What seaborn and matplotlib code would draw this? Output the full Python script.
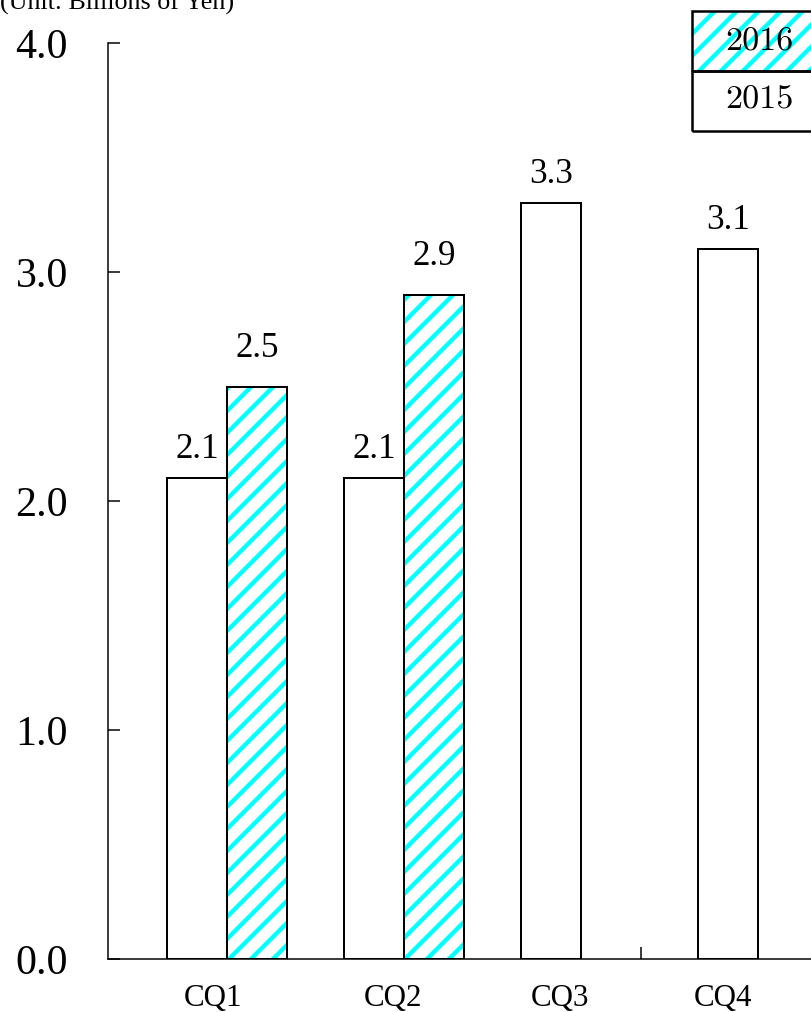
import matplotlib
matplotlib.use("Agg")
import matplotlib.pyplot as plt
from matplotlib.patches import Rectangle
import pandas as pd
import seaborn as sns

# Quarterly sales, billions of yen
quarters = ["CQ1", "CQ2", "CQ3", "CQ4"]
years = ["2015", "2016"]
sales_2015 = [2.1, 2.1, 3.3, 3.1]
sales_2016 = [2.5, 2.9, None, None]
y_ticks = [0.0, 1.0, 2.0, 3.0, 4.0]
unit_label = "(Unit: Billions of Yen)"

DPI = 132
W, H = 811, 1012


def pt(px):
    """Pixel size to points at the figure dpi."""
    return px * 72 / DPI


CYAN = "#00FFFF"
HATCH = "//"

sns.set_theme(style="white", rc={
    "text.color": "black",
    "axes.edgecolor": "black",
    "xtick.color": "black",
    "ytick.color": "black",
    "axes.labelcolor": "black",
})
plt.rcParams["font.family"] = ["Liberation Serif", "DejaVu Serif"]
plt.rcParams["hatch.linewidth"] = pt(4.4)

df = pd.DataFrame({
    "quarter": quarters * 2,
    "year": [years[0]] * len(quarters) + [years[1]] * len(quarters),
    "value": sales_2015 + sales_2016,
}).dropna()

fig = plt.figure(figsize=(W / DPI, H / DPI), dpi=DPI)
ax = fig.add_axes([108 / W, 1 - 959 / H, 1 - 108 / W, (959 - 43) / H])

sns.barplot(data=df, x="quarter", y="value", hue="year",
            order=quarters, hue_order=years, width=0.678,
            palette=["white", "white"], saturation=1,
            edgecolor="black", linewidth=pt(2), legend=False, ax=ax)

# 2016 bars: cyan diagonal hatch with a black outline on top
for bar in ax.containers[1]:
    bar.set_hatch(HATCH)
    bar.set_edgecolor(CYAN)
    bar.set_linewidth(0)
    ax.add_patch(Rectangle(bar.get_xy(), bar.get_width(), bar.get_height(),
                           fill=False, edgecolor="black", linewidth=pt(2),
                           zorder=bar.get_zorder() + 0.1))

# value labels
ax.bar_label(ax.containers[0], fmt="%.1f", padding=pt(12.5), fontsize=pt(35))
ax.bar_label(ax.containers[1], fmt="%.1f", padding=pt(21.5), fontsize=pt(35))

# axes
ax.set_ylim(0, 4)
ax.set_yticks(y_ticks)
ax.set_yticklabels([f"{v:.1f}" for v in y_ticks])
ax.tick_params(axis="y", direction="in", length=pt(12), width=pt(1.5),
               pad=pt(40), labelsize=pt(42), left=True)

ax.set_xlim(-0.672, 3.30)
label_shift = [-0.08, -0.06, -0.12, -0.2]
ax.set_xticks([i + s for i, s in enumerate(label_shift)])
ax.set_xticklabels(quarters)
ax.set_xticks([2.34], minor=True)
ax.tick_params(axis="x", which="major", length=0, pad=pt(25), labelsize=pt(31))
ax.tick_params(axis="x", which="minor", direction="in", length=pt(12),
               width=pt(1.5), bottom=True)
ax.set_xlabel("")
ax.set_ylabel("")

sns.despine(ax=ax, top=True, right=True)
for side in ("left", "bottom"):
    ax.spines[side].set_linewidth(pt(1.5))
    ax.spines[side].set_color("black")

fig.text(0, 1 - 10 / H, unit_label, fontsize=pt(26), ha="left", va="baseline")

# year key in the top-right corner
key_left = 692 / W
key_w = (W - 692 + 10) / W
row_h = 59.5 / H
fig.patches.append(Rectangle((key_left, 1 - 71 / H), key_w, row_h,
                             transform=fig.transFigure, facecolor="white",
                             edgecolor=CYAN, hatch=HATCH, linewidth=0))
for top in (11, 71):
    fig.patches.append(Rectangle((key_left, 1 - (top + 59.5) / H), key_w, row_h,
                                 transform=fig.transFigure, fill=False,
                                 edgecolor="black", linewidth=pt(2.5)))
fig.text(759 / W, 1 - 42 / H, years[1], family="cmr10", fontsize=pt(34),
         ha="center", va="center")
fig.text(759 / W, 1 - 100 / H, years[0], family="cmr10", fontsize=pt(34),
         ha="center", va="center")

fig.savefig("out.png", dpi=DPI)
